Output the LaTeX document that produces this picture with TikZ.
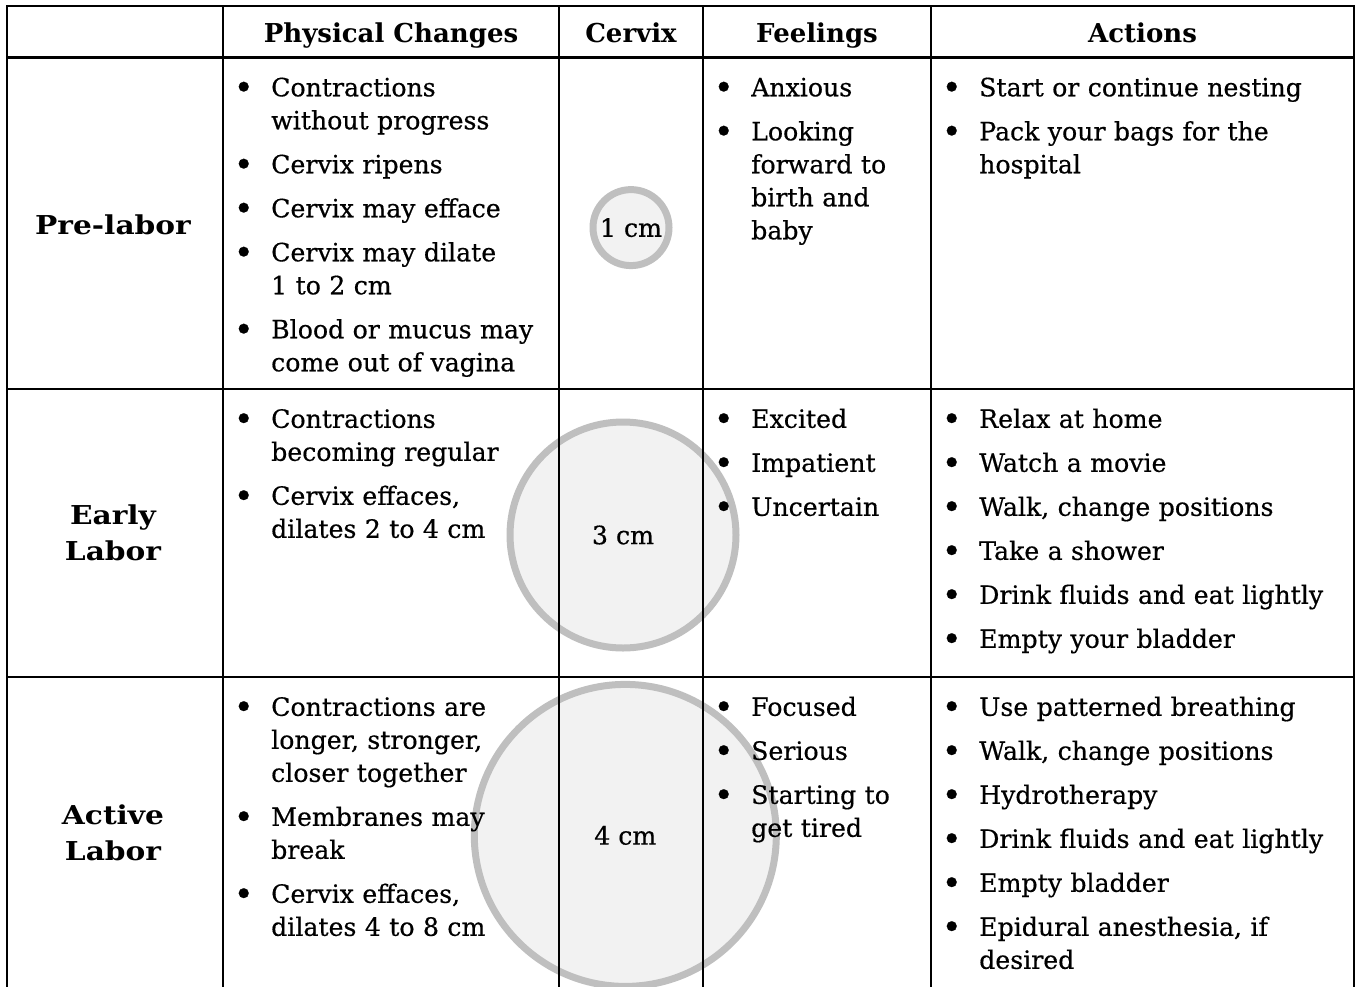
\documentclass[tikz,border=0pt]{standalone}
\usepackage{fontspec}
\usepackage{graphicx}
\setmainfont{DejaVu Serif}[FakeBold=0.5, BoldFeatures={FakeBold=0}]
\newfontfamily\stagefont{DejaVu Serif}[FakeStretch=1.14]
\definecolor{pRing}{gray}{0.75}
\definecolor{pFill}{gray}{0.95}
\newcommand{\bodysize}{\fontsize{25.2}{33}\selectfont}
\newcommand{\labsize}{\fontsize{26}{36}\selectfont}
\newcommand{\dotmark}{\hspace{-2.5pt}\raisebox{-3pt}{\scalebox{1.35}{\textbullet}}}
\newcommand{\itm}[1]{\begingroup\let\\\newline\hangindent=35pt\hangafter=1%
  \noindent\makebox[35pt][l]{\dotmark}\strut#1\par\endgroup\vspace{11pt}}
\tikzset{
    rule/.style={line width=2.5pt, line cap=rect},
    ring/.style={circle, draw=pRing, fill=pFill, line width=7pt, inner sep=0pt, font=\bodysize},
    head/.style={anchor=base, inner sep=0pt, font=\labsize\bfseries},
    stage/.style={align=center, inner sep=0pt, font=\stagefont\labsize\bfseries},
    cell/.style={anchor=north west, inner sep=0pt, text width=420pt, font=\bodysize}
}
\begin{document}
\begin{tikzpicture}[x=1pt,y=-1pt]
\useasboundingbox (0,0) rectangle (1359,986);
% cervix circles
\node[ring, minimum size=76pt]  (cOne)   at (631,227.6) {1 cm};
\node[ring, minimum size=226pt] (cThree) at (623,535)   {3 cm};
\node[ring, minimum size=302pt] (cFour)  at (625.3,835.4) {4 cm};
% table rules
\foreach \x in {7,223,559,703,931,1354} \draw[rule] (\x,6) -- (\x,992);
\foreach \y in {6,57.5,389,677} \draw[rule] (7,\y) -- (1354,\y);
% header
\node[head] (hPhys) at (391,42) {Physical Changes};
\node[head] (hCerv) at (631,42) {Cervix};
\node[head] (hFeel) at (817,42) {Feelings};
\node[head] (hAct)  at (1142.5,42) {Actions};
% stages
\node[stage] (sPre)    at (113,225) {Pre-labor};
\node[stage] (sEarly)  at (113,533) {Early\\Labor};
\node[stage] (sActive) at (113,833) {Active\\Labor};
% pre-labor
\node[cell] (pPre) at (236,73) {\itm{Contractions\\without progress}\itm{Cervix ripens}%
  \itm{Cervix may efface}\itm{Cervix may dilate\\1 to 2 cm}\itm{Blood or mucus may\\come out of vagina}};
\node[cell] (fPre) at (716,73) {\itm{Anxious}\itm{Looking\\forward to\\birth and\\baby}};
\node[cell] (aPre) at (944,73) {\itm{Start or continue nesting}\itm{Pack your bags for the\\hospital}};
% early labor
\node[cell] (pEarly) at (236,404.5) {\itm{Contractions\\becoming regular}\itm{Cervix effaces,\\dilates 2 to 4 cm}};
\node[cell] (fEarly) at (716,404.5) {\itm{Excited}\itm{Impatient}\itm{Uncertain}};
\node[cell] (aEarly) at (944,404.5) {\itm{Relax at home}\itm{Watch a movie}\itm{Walk, change positions}%
  \itm{Take a shower}\itm{Drink fluids and eat lightly}\itm{Empty your bladder}};
% active labor
\node[cell] (pActive) at (236,692.5) {\itm{Contractions are\\longer, stronger,\\closer together}%
  \itm{Membranes may\\break}\itm{Cervix effaces,\\dilates 4 to 8 cm}};
\node[cell] (fActive) at (716,692.5) {\itm{Focused}\itm{Serious}\itm{Starting to\\get tired}};
\node[cell] (aActive) at (944,692.5) {\itm{Use patterned breathing}\itm{Walk, change positions}%
  \itm{Hydrotherapy}\itm{Drink fluids and eat lightly}\itm{Empty bladder}%
  \itm{Epidural anesthesia, if\\desired}};
\end{tikzpicture}
\end{document}
